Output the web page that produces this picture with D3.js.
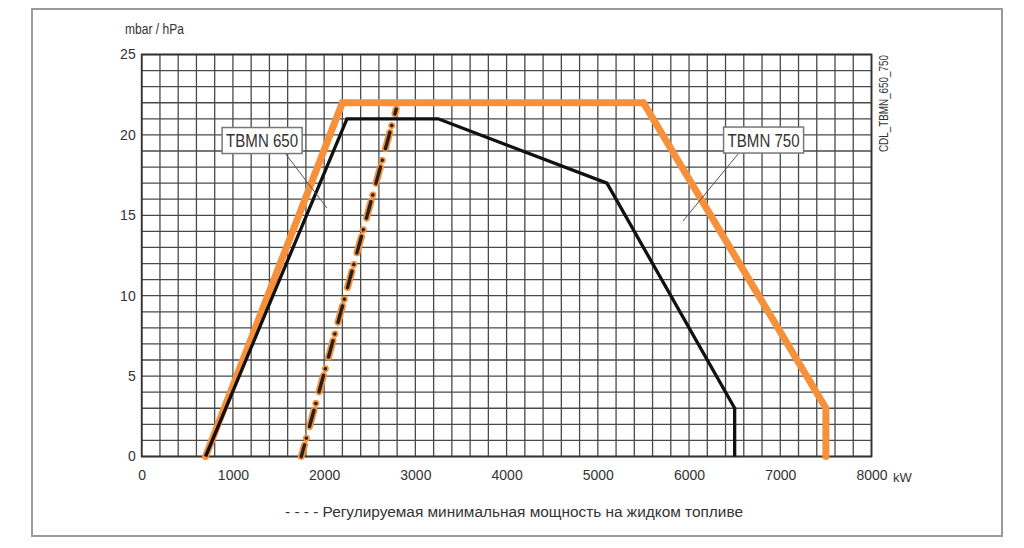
<!DOCTYPE html>
<html>
<head>
<meta charset="utf-8">
<script src="https://cdn.jsdelivr.net/npm/d3@7"></script>
<style>
  html, body { margin: 0; padding: 0; background: #fff; }
  text { font-family: "Liberation Sans", Arial, sans-serif; fill: #333; }
</style>
</head>
<body>
<div id="chart"></div>
<script>
// burner working fields, kW vs mbar
const xTicks = [0, 1000, 2000, 3000, 4000, 5000, 6000, 7000, 8000];
const yTicks = [0, 5, 10, 15, 20, 25];
const tbmn650 = [[700, 0], [2250, 21], [3250, 21], [5100, 17], [6500, 3], [6500, 0]];
const tbmn750 = [[700, 0], [2200, 22], [5500, 22], [7500, 3], [7500, 0]];
const oilMin = [[1750, 0], [2790, 21.6]];
// label: box centre and leader line in data units
const labels = [
  { text: 'TBMN 650', cx: 1320, cy: 19.65, from: [1571, 18.87], to: [2031, 15.45] },
  { text: 'TBMN 750', cx: 6817, cy: 19.68, from: [6537, 18.81], to: [5934, 14.65] }
];

const width = 1024;
const height = 548;
const margin = { top: 54.5, right: 152.5, bottom: 91.5, left: 141.7 };

const svg = d3.select('#chart')
  .append('svg')
  .attr('width', width)
  .attr('height', height);

// outer frame
svg.append('rect')
  .attr('x', 32).attr('y', 9)
  .attr('width', 970).attr('height', 527)
  .attr('fill', 'none')
  .attr('stroke', '#9a9a9a')
  .attr('stroke-width', 2);

const x = d3.scaleLinear().domain([0, 8000]).range([margin.left, width - margin.right]);
const y = d3.scaleLinear().domain([0, 25]).range([height - margin.bottom, margin.top]);

// grid: 200 kW by 1 mbar
const grid = svg.append('g').attr('stroke', '#4a4a4a').attr('stroke-width', 1.3);
grid.selectAll('line.v')
  .data(d3.range(0, 8001, 200))
  .enter().append('line')
  .attr('x1', d => x(d)).attr('x2', d => x(d))
  .attr('y1', y(0)).attr('y2', y(25));
grid.selectAll('line.h')
  .data(d3.range(0, 26, 1))
  .enter().append('line')
  .attr('x1', x(0)).attr('x2', x(8000))
  .attr('y1', d => y(d)).attr('y2', d => y(d));

svg.append('rect')
  .attr('x', x(0)).attr('y', y(25))
  .attr('width', x(8000) - x(0)).attr('height', y(0) - y(25))
  .attr('fill', 'none')
  .attr('stroke', '#333')
  .attr('stroke-width', 1.8);

// axes (labels only, the grid draws the lines)
const xAxis = svg.append('g')
  .attr('transform', `translate(0, ${y(0)})`)
  .call(d3.axisBottom(x).tickValues(xTicks).tickSize(0).tickPadding(14).tickFormat(d3.format('d')));
const yAxis = svg.append('g')
  .attr('transform', `translate(${x(0)}, 0)`)
  .call(d3.axisLeft(y).tickValues(yTicks).tickSize(0).tickPadding(6));
[xAxis, yAxis].forEach(a => {
  a.select('.domain').remove();
  a.selectAll('text').attr('font-size', 14).attr('fill', '#3a3a3a')
    .attr('font-family', '"Liberation Sans", Arial, sans-serif');
});

svg.append('text')
  .attr('x', 125).attr('y', 34)
  .attr('font-size', 14)
  .attr('textLength', 59).attr('lengthAdjust', 'spacingAndGlyphs')
  .text('mbar / hPa');

svg.append('text')
  .attr('x', 893).attr('y', 482)
  .attr('font-size', 13)
  .text('kW');

svg.append('text')
  .attr('transform', 'translate(888, 152) rotate(-90)')
  .attr('font-size', 12)
  .attr('textLength', 97).attr('lengthAdjust', 'spacingAndGlyphs')
  .text('CDL_TBMN_650_750');

const line = d3.line().x(d => x(d[0])).y(d => y(d[1]));

// minimum oil output, dash-dot orange with black core
const dash = '17 7 0.01 12';
svg.append('path')
  .attr('d', line(oilMin))
  .attr('fill', 'none')
  .attr('stroke', '#f7903a')
  .attr('stroke-width', 7)
  .attr('stroke-linecap', 'round')
  .attr('stroke-dasharray', dash)
  .attr('stroke-dashoffset', 5);
svg.append('path')
  .attr('d', line(oilMin))
  .attr('fill', 'none')
  .attr('stroke', '#222')
  .attr('stroke-width', 3.4)
  .attr('stroke-linecap', 'round')
  .attr('stroke-dasharray', dash)
  .attr('stroke-dashoffset', 5);

svg.append('path')
  .attr('d', line(tbmn750))
  .attr('fill', 'none')
  .attr('stroke', '#f7903a')
  .attr('stroke-width', 7)
  .attr('stroke-linejoin', 'miter')
  .attr('stroke-linecap', 'round');

svg.append('path')
  .attr('d', line(tbmn650))
  .attr('fill', 'none')
  .attr('stroke', '#111')
  .attr('stroke-width', 3.3)
  .attr('stroke-linejoin', 'miter');

// model labels
const lab = svg.selectAll('g.label')
  .data(labels)
  .enter().append('g')
  .attr('class', 'label');
lab.append('line')
  .attr('x1', d => x(d.from[0])).attr('y1', d => y(d.from[1]))
  .attr('x2', d => x(d.to[0])).attr('y2', d => y(d.to[1]))
  .attr('stroke', '#555')
  .attr('stroke-width', 1);
lab.append('rect')
  .attr('x', d => x(d.cx) - 40).attr('y', d => y(d.cy) - 13)
  .attr('width', 80).attr('height', 26)
  .attr('fill', '#fff')
  .attr('stroke', '#777')
  .attr('stroke-width', 1.5);
lab.append('text')
  .attr('x', d => x(d.cx)).attr('y', d => y(d.cy) + 6.5)
  .attr('text-anchor', 'middle')
  .attr('font-size', 18)
  .attr('fill', '#333')
  .attr('textLength', 72).attr('lengthAdjust', 'spacingAndGlyphs')
  .text(d => d.text);

// legend
svg.append('text')
  .attr('x', 285).attr('y', 517)
  .attr('font-size', 14)
  .attr('textLength', 458).attr('lengthAdjust', 'spacingAndGlyphs')
  .text('- - - - Регулируемая минимальная мощность на жидком топливе');
</script>
</body>
</html>
